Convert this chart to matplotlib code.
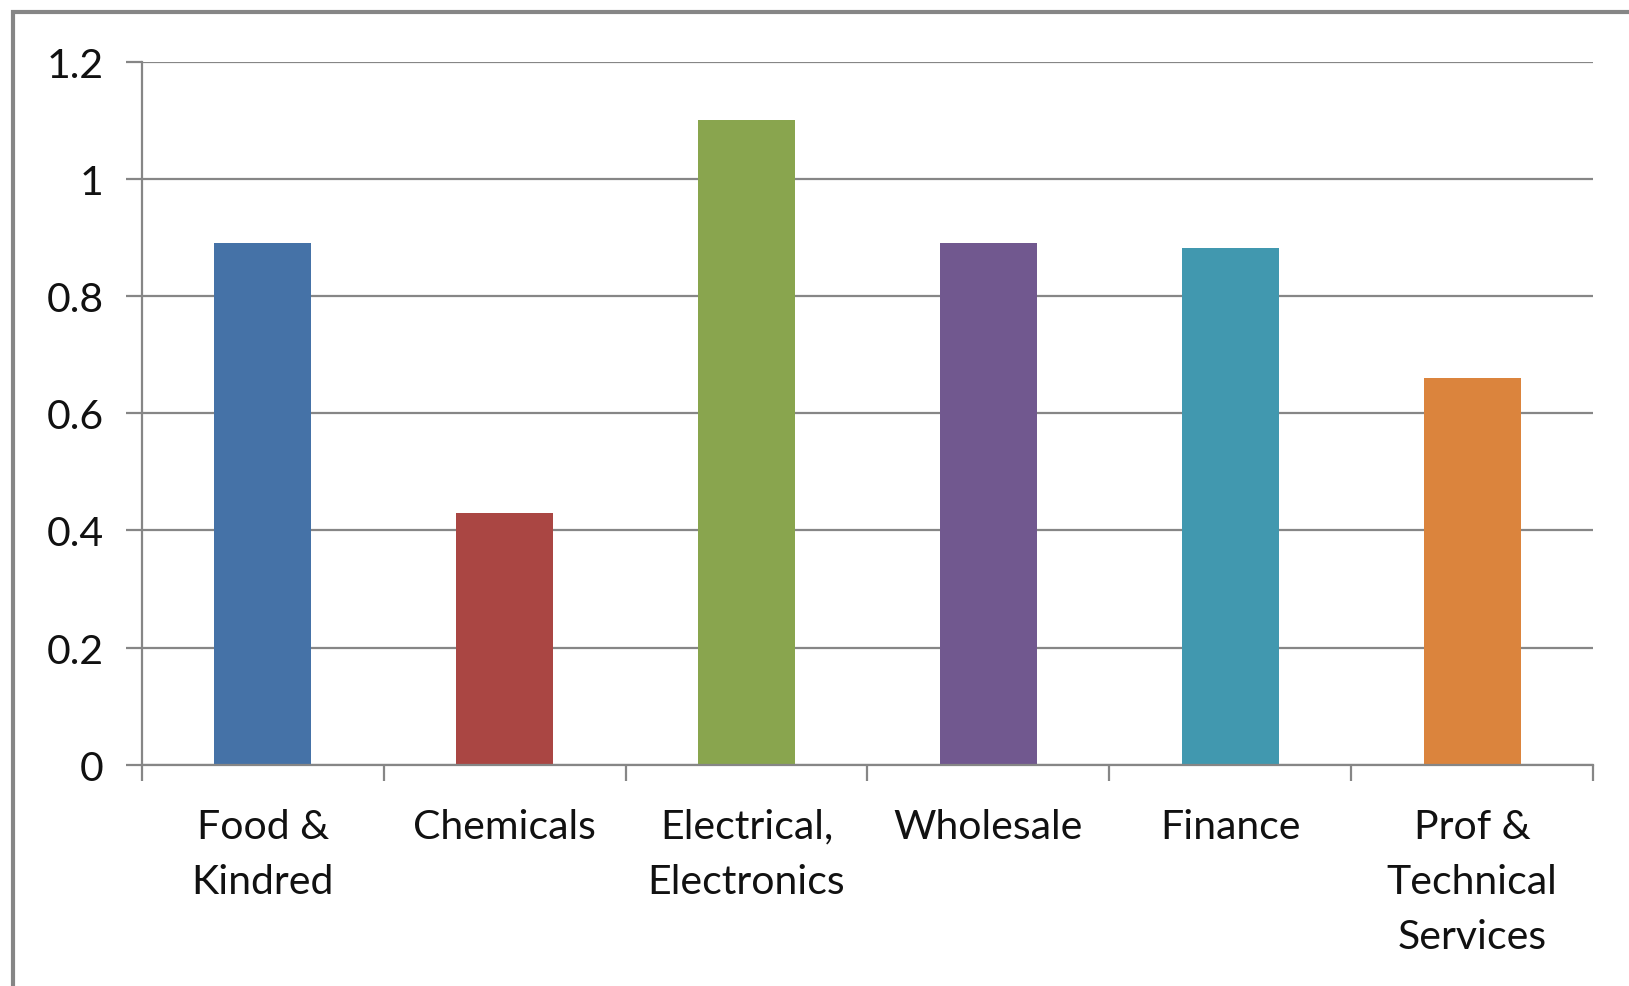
import numpy as np
import matplotlib.pyplot as plt
from matplotlib.patches import Rectangle

plt.rcParams['font.family'] = ['Lato', 'DejaVu Sans']
plt.rcParams['font.size'] = 29.5

categories = ['Food &\nKindred', 'Chemicals', 'Electrical,\nElectronics',
              'Wholesale', 'Finance', 'Prof &\nTechnical\nServices']
values = [0.89, 0.43, 1.10, 0.89, 0.882, 0.66]
colors = ['#4572A7', '#AA4643', '#89A54E', '#71588F', '#4198AF', '#DB843D']
yticks = [0, 0.2, 0.4, 0.6, 0.8, 1.0, 1.2]
ylabels = ['0', '0.2', '0.4', '0.6', '0.8', '1', '1.2']

grey = '#868686'

fig = plt.figure(figsize=(16.29, 9.87), dpi=100)
ax = fig.add_axes([0.087, 0.224, 0.891, 0.7125])

ind = np.arange(len(categories))
ax.bar(ind, values, 0.4, color=colors, zorder=3)

ax.set_xlim(-0.5, len(categories) - 0.5)
ax.set_ylim(0, 1.2)

# gridlines and axis lines in Excel grey
ax.set_yticks(yticks)
ax.set_yticklabels(ylabels)
ax.yaxis.grid(True, color=grey, linewidth=1.6, zorder=0)
for side in ('top', 'right'):
    ax.spines[side].set_visible(False)
for side in ('left', 'bottom'):
    ax.spines[side].set_color(grey)
    ax.spines[side].set_linewidth(1.6)
    ax.spines[side].set_zorder(4)

ax.tick_params(axis='y', length=11.5, width=1.6, color=grey, pad=16,
               labelcolor='#111111')

# labels centred under bars, tick marks on the category boundaries
ax.set_xticks(ind)
ax.set_xticklabels(categories, linespacing=1.6)
ax.set_xticks(np.arange(len(categories) + 1) - 0.5, minor=True)
ax.tick_params(axis='x', which='major', length=0, pad=31, labelcolor='#111111')
ax.tick_params(axis='x', which='minor', length=11.5, width=1.6, color=grey)
for lbl in ax.get_xticklabels():
    lbl.set_verticalalignment('top')

# chart frame, runs off the right and bottom edges
fig.add_artist(Rectangle((12.5 / 1629, -0.05), 1.2, 1.05 - 12.5 / 987,
                         transform=fig.transFigure, fill=False,
                         edgecolor=grey, linewidth=3))

plt.savefig('out.png', dpi=100)
